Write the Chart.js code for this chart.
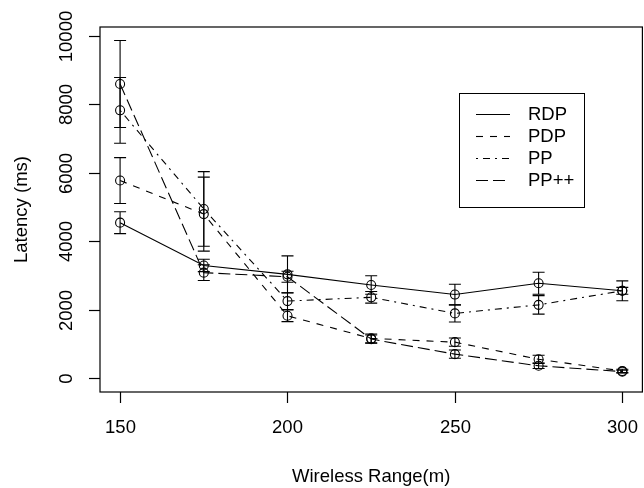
<!DOCTYPE html>
<html>
<head>
<meta charset="utf-8">
<script src="https://cdn.jsdelivr.net/npm/chart.js@4/dist/chart.umd.min.js"></script>
<style>
  html, body { margin: 0; padding: 0; overflow: hidden; background: #fff; }
  #wrap { width: 648px; height: 488px; }
</style>
</head>
<body>
<div id="wrap"><canvas id="chart" width="648" height="488"></canvas></div>
<script>
// wireless range (m) on the x axis
const ranges = [150, 175, 200, 225, 250, 275, 300];

// mean latency (ms) per protocol
const rdp = [4550, 3300, 3040, 2730, 2450, 2780, 2560];
const pdp = [5780, 4800, 1830, 1170, 1060, 560, 220];
const pp = [7830, 4950, 2260, 2370, 1900, 2150, 2560];
const ppPlus = [8600, 3090, 2970, 1150, 710, 370, 200];

// error bar half widths (ms)
const rdpErr = [320, 180, 540, 270, 300, 320, 290];
const pdpErr = [670, 1080, 170, 130, 120, 120, 50];
const ppErr = [960, 1090, 245, 170, 250, 270, 100];
const ppPlusErr = [1270, 230, 160, 120, 120, 80, 40];

const seriesNames = ['RDP', 'PDP', 'PP', 'PP++'];
const xTicks = [150, 200, 250, 300];
const yTicks = [0, 2000, 4000, 6000, 8000, 10000];

const FONT = '18.5px "Liberation Sans", Arial, Helvetica, sans-serif';

const toPoints = (vals) => vals.map((v, i) => ({ x: ranges[i], y: v }));

const makeSet = (label, vals, errs, dash) => ({
  label: label,
  data: toPoints(vals),
  errors: errs,
  borderColor: '#000',
  borderWidth: 1.1,
  borderDash: dash,
  tension: 0,
  fill: false,
  pointRadius: 4.5,
  pointHoverRadius: 4.5,
  pointBorderWidth: 1.1,
  pointBorderColor: '#000',
  pointBackgroundColor: 'rgba(0,0,0,0)'
});

// error bars drawn through the scales
const errorBars = {
  id: 'errorBars',
  afterDatasetsDraw(chart) {
    const ctx = chart.ctx;
    const xs = chart.scales.x;
    const ys = chart.scales.y;
    ctx.save();
    ctx.strokeStyle = '#000';
    ctx.lineWidth = 1.1;
    ctx.setLineDash([]);
    chart.data.datasets.forEach(ds => {
      ds.data.forEach((p, i) => {
        const e = ds.errors[i];
        const px = xs.getPixelForValue(p.x);
        const top = ys.getPixelForValue(p.y + e);
        const bot = ys.getPixelForValue(p.y - e);
        ctx.beginPath();
        ctx.moveTo(px, top); ctx.lineTo(px, bot);
        ctx.moveTo(px - 6, top); ctx.lineTo(px + 6, top);
        ctx.moveTo(px - 6, bot); ctx.lineTo(px + 6, bot);
        ctx.stroke();
      });
    });
    ctx.restore();
  }
};

// R style box, ticks and axis titles
const baseAxes = {
  id: 'baseAxes',
  afterDraw(chart) {
    const ctx = chart.ctx;
    const a = chart.chartArea;
    const xs = chart.scales.x;
    const ys = chart.scales.y;
    ctx.save();
    ctx.strokeStyle = '#000';
    ctx.lineWidth = 1.2;
    ctx.setLineDash([]);
    ctx.strokeRect(a.left, a.top, a.right - a.left, a.bottom - a.top);

    ctx.fillStyle = '#000';
    ctx.font = FONT;
    ctx.textAlign = 'center';
    ctx.textBaseline = 'middle';

    // x axis
    xTicks.forEach(t => {
      const px = Math.round(xs.getPixelForValue(t)) + 0.5;
      ctx.beginPath();
      ctx.moveTo(px, a.bottom); ctx.lineTo(px, a.bottom + 11);
      ctx.stroke();
      ctx.fillText(String(t), px, 428);
    });

    // y axis
    yTicks.forEach(t => {
      const py = Math.round(ys.getPixelForValue(t)) + 0.5;
      ctx.beginPath();
      ctx.moveTo(a.left, py); ctx.lineTo(a.left - 11, py);
      ctx.stroke();
      ctx.save();
      ctx.translate(67, py);
      ctx.rotate(-Math.PI / 2);
      ctx.fillText(String(t), 0, 0);
      ctx.restore();
    });

    ctx.fillText('Wireless Range(m)', (a.left + a.right) / 2, 477);
    ctx.save();
    ctx.translate(22, (a.top + a.bottom) / 2);
    ctx.rotate(-Math.PI / 2);
    ctx.fillText('Latency (ms)', 0, 0);
    ctx.restore();
    ctx.restore();
  }
};

// legend box inside the plot
const boxLegend = {
  id: 'boxLegend',
  afterDraw(chart) {
    const ctx = chart.ctx;
    ctx.save();
    ctx.strokeStyle = '#000';
    ctx.lineWidth = 1;
    ctx.setLineDash([]);
    ctx.strokeRect(459.5, 93.5, 125, 114);
    ctx.font = FONT;
    ctx.fillStyle = '#000';
    ctx.textAlign = 'left';
    ctx.textBaseline = 'middle';
    chart.data.datasets.forEach((ds, i) => {
      const y = Math.round(114 + i * 22.1) + 0.5;
      ctx.lineWidth = 1.1;
      ctx.setLineDash(ds.borderDash);
      ctx.beginPath();
      ctx.moveTo(476, y); ctx.lineTo(510, y);
      ctx.stroke();
      ctx.fillText(seriesNames[i], 528, y);
    });
    ctx.restore();
  }
};

new Chart(document.getElementById('chart').getContext('2d'), {
  type: 'line',
  data: {
    datasets: [
      makeSet('RDP', rdp, rdpErr, []),
      makeSet('PDP', pdp, pdpErr, [7, 7]),
      makeSet('PP', pp, ppErr, [2, 5, 7, 5]),
      makeSet('PP++', ppPlus, ppPlusErr, [12, 5])
    ]
  },
  options: {
    responsive: false,
    animation: false,
    devicePixelRatio: 1,
    layout: { padding: { left: 100, top: 27, right: 0, bottom: 96 } },
    scales: {
      x: { type: 'linear', min: 144, max: 306, display: false },
      y: { type: 'linear', min: -395, max: 10263, display: false }
    },
    plugins: {
      legend: { display: false },
      tooltip: { enabled: false }
    }
  },
  plugins: [errorBars, baseAxes, boxLegend]
});
</script>
</body>
</html>
